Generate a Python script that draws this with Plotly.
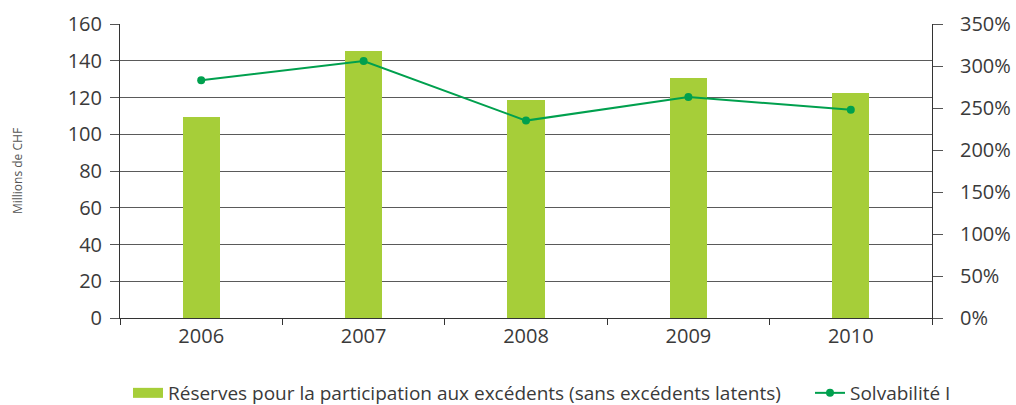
import plotly.graph_objects as go

years = ["2006", "2007", "2008", "2009", "2010"]
reserves = [109.4, 145.5, 118.8, 130.8, 122.6]
solvency = [283, 306, 235, 263, 248]

bar_name = "Réserves pour la participation aux excédents (sans excédents latents)"
line_name = "Solvabilité I"

BAR_COLOR = "#a6ce39"
LINE_COLOR = "#00a04e"
TEXT = "#3a3a3a"
FONT = "Open Sans"

fig = go.Figure()
fig.add_trace(go.Bar(x=years, y=reserves, name=bar_name, marker_color=BAR_COLOR,
                     marker_line_width=0, width=0.23, showlegend=False))
# legend entry for the bars (wide rectangle symbol)
fig.add_trace(go.Scatter(x=[None], y=[None], mode="lines", name=bar_name,
                         line=dict(color=BAR_COLOR, width=11), legend="legend"))
fig.add_trace(go.Scatter(x=years, y=solvency, name=line_name, yaxis="y2",
                         mode="lines+markers", line=dict(color=LINE_COLOR, width=2),
                         marker=dict(color=LINE_COLOR, size=8), legend="legend2"))

fig.update_layout(
    width=1016, height=405,
    margin=dict(l=120, r=84, t=24, b=87, autoexpand=False),
    paper_bgcolor="white", plot_bgcolor="white",
    font=dict(family=FONT, color=TEXT, size=20),
    bargap=0,
    xaxis=dict(showline=True, linecolor="#333", linewidth=1, ticks="outside",
               tickson="boundaries", ticklen=6, tickcolor="#333",
               showgrid=False, tickfont=dict(size=20)),
    yaxis=dict(range=[0, 160], dtick=20, showline=True, linecolor="#333",
               ticks="outside", ticklen=9, tickcolor="#555",
               showgrid=True, gridcolor="#5a5a5a", gridwidth=1, zeroline=False,
               ticklabelstandoff=4,
               title=dict(text="Millions de CHF", font=dict(size=12, color="#555"),
                          standoff=42)),
    yaxis2=dict(range=[0, 350], dtick=50, overlaying="y", side="right",
                ticksuffix="%", showline=True, linecolor="#333", ticks="outside",
                ticklen=10, tickcolor="#555", showgrid=False, zeroline=False,
                ticklabelstandoff=13),
    legend=dict(orientation="h", x=8 / 812, xanchor="left", yref="container",
                y=(405 - 393) / 405, yanchor="middle",
                font=dict(size=19), bgcolor="rgba(0,0,0,0)"),
    legend2=dict(orientation="h", x=(810 - 120) / 812, xanchor="left",
                 yref="container", y=(405 - 393) / 405, yanchor="middle",
                 font=dict(size=19), bgcolor="rgba(0,0,0,0)"),
)

fig.write_html("out.html", config={"displayModeBar": False},
               post_script="document.body.style.margin='0';")
